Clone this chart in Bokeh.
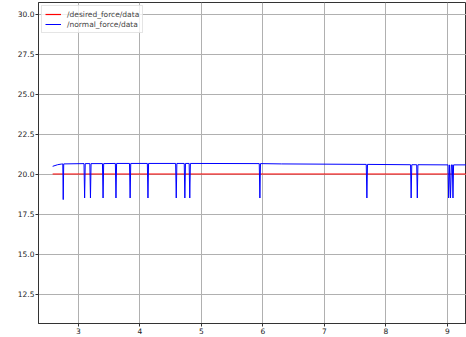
from bokeh.plotting import figure
from bokeh.models import NumeralTickFormatter, FixedTicker, Legend, LegendItem
from bokeh.embed import file_html
from bokeh.resources import INLINE

# Data
desired_x = [2.58, 9.40]
desired_y = [20.0, 20.0]

normal_x = [2.58, 2.66, 2.72, 2.745, 2.752, 2.76,
            3.09, 3.10, 3.11, 3.185, 3.195, 3.205,
            3.39, 3.40, 3.41, 3.60, 3.61, 3.62,
            3.83, 3.84, 3.85, 4.12, 4.13, 4.14,
            4.58, 4.59, 4.60, 4.72, 4.73, 4.74,
            4.80, 4.81, 4.82, 5.94, 5.95, 5.96,
            6.30, 7.68, 7.69, 7.70, 8.40, 8.41, 8.42,
            8.50, 8.51, 8.52, 9.01, 9.02, 9.035, 9.05, 9.065, 9.08, 9.09, 9.10, 9.40]
normal_y = [20.48, 20.58, 20.62, 20.63, 18.4, 20.63,
            20.65, 18.5, 20.65, 20.65, 18.5, 20.65,
            20.65, 18.5, 20.65, 20.66, 18.5, 20.66,
            20.66, 18.5, 20.66, 20.66, 18.5, 20.66,
            20.66, 18.5, 20.66, 20.66, 18.5, 20.66,
            20.66, 18.5, 20.66, 20.65, 18.5, 20.65,
            20.63, 20.60, 18.5, 20.60, 20.58, 18.5, 20.58,
            20.58, 18.5, 20.58, 20.57, 18.5, 20.57, 18.5, 20.57, 20.57, 18.5, 20.57, 20.57]

y_ticks = [12.5, 15.0, 17.5, 20.0, 22.5, 25.0, 27.5, 30.0]
x_ticks = [3, 4, 5, 6, 7, 8, 9]

FONT = "DejaVu Sans"
RED = "#ff0000"
BLUE = "#0000ff"

p = figure(width=466, height=337, output_backend="svg", toolbar_location=None,
           x_range=(2.35, 9.31), y_range=(10.65625, 30.71875),
           min_border_left=38, min_border_right=0, min_border_top=2, min_border_bottom=14)

p.background_fill_color = "#ffffff"
p.border_fill_color = "#ffffff"
p.outline_line_color = "#333333"
p.outline_line_width = 1

r1 = p.line(x=desired_x, y=desired_y, line_color=RED, line_width=1.2, line_alpha=1.0)
r2 = p.line(x=normal_x, y=normal_y, line_color=BLUE, line_width=1, line_alpha=1.0)

for ax in (p.xaxis[0], p.yaxis[0]):
    ax.axis_line_color = "#333333"
    ax.major_tick_line_color = "#333333"
    ax.major_tick_out = 3
    ax.major_tick_in = 0
    ax.minor_tick_out = 0
    ax.minor_tick_in = 0
    ax.major_label_text_font = FONT
    ax.major_label_text_font_size = "7.5px"
    ax.major_label_text_color = "#222222"
    ax.major_label_standoff = 1

p.xaxis[0].ticker = FixedTicker(ticks=x_ticks)
p.yaxis[0].ticker = FixedTicker(ticks=y_ticks)
p.yaxis[0].formatter = NumeralTickFormatter(format="0.0")

p.xgrid.grid_line_color = "#b0b0b0"
p.ygrid.grid_line_color = "#b0b0b0"
p.xgrid.ticker = FixedTicker(ticks=x_ticks)
p.ygrid.ticker = FixedTicker(ticks=y_ticks)

legend = Legend(items=[LegendItem(label="/desired_force/data", renderers=[r1]),
                       LegendItem(label="/normal_force/data", renderers=[r2])],
                location="top_left")
legend.margin = 3
legend.padding = 3
legend.spacing = 0
legend.label_text_font = FONT
legend.label_text_font_size = "7.5px"
legend.label_height = 10
legend.glyph_height = 10
legend.glyph_width = 16
legend.label_standoff = 6
legend.border_line_color = "#cccccc"
legend.background_fill_alpha = 0.8
p.add_layout(legend)

open("out.html", "w").write(file_html(p, INLINE))
